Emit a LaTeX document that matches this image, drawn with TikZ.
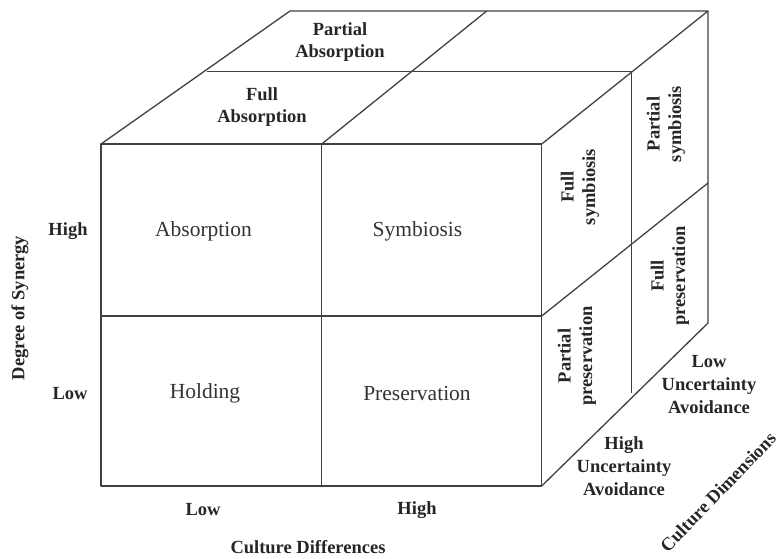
\documentclass[tikz,border=0pt]{standalone}
\usepackage{fontspec}
\setmainfont{Liberation Serif}
\begin{document}
\begin{tikzpicture}[x=1pt,y=-1pt,
  edge/.style={draw=black!75, line width=1.3pt, line join=round},
  lbl/.style={font=\fontsize{18.5}{21.5}\selectfont\bfseries, align=center, text=black!85, inner sep=0pt},
  lbl3/.style={lbl, font=\fontsize{18.5}{23}\selectfont\bfseries},
  cell/.style={font=\fontsize{21.5}{24}\selectfont, align=center, text=black!80, inner sep=0pt}]
\useasboundingbox (0,0) rectangle (779,558);
% corners
\coordinate (FTL) at (101,144);
\coordinate (FTM) at (321.7,144);
\coordinate (FTR) at (541.7,144);
\coordinate (FML) at (101,316);
\coordinate (FMM) at (321.7,316);
\coordinate (FMR) at (541.7,316);
\coordinate (FBL) at (101,486);
\coordinate (FBM) at (321.7,486);
\coordinate (FBR) at (541.7,486);
\coordinate (MTL) at (206.7,71.7);
\coordinate (MTR) at (631.7,71.7);
\coordinate (MMR) at (631.7,241.7);
\coordinate (MBR) at (631.7,393);
\coordinate (BTL) at (290,11);
\coordinate (BTM) at (486.7,11);
\coordinate (BTR) at (708,11);
\coordinate (BMR) at (708,183);
\coordinate (BBR) at (708,323);
% front face
\draw[edge] (FTL) -- (FTR) -- (FBR) -- (FBL) -- cycle;
\draw[edge] (FTM) -- (FBM);
\draw[edge] (FML) -- (FMR);
% top face
\draw[edge] (FTL) -- (BTL) -- (BTR) -- (FTR);
\draw[edge] (MTL) -- (MTR);
\draw[edge] (FTM) -- (BTM);
% right face
\draw[edge] (BTR) -- (BBR) -- (FBR);
\draw[edge] (MTR) -- (MBR);
\draw[edge] (FMR) -- (BMR);
% top labels
\node[lbl] (pa) at (340,42) {Partial\\Absorption};
\node[lbl] (fa) at (262,107) {Full\\Absorption};
% front cells
\node[cell] (c1) at (203.5,231) {Absorption};
\node[cell] (c2) at (417.5,231) {Symbiosis};
\node[cell] (c3) at (205,393) {Holding};
\node[cell] (c4) at (417,393) {Preservation};
% axis labels
\node[lbl] (yh) at (68,231) {High};
\node[lbl] (yl) at (70,394) {Low};
\node[lbl, rotate=90] (ya) at (20,308) {Degree of Synergy};
\node[lbl] (xl) at (203,510) {Low};
\node[lbl] (xh) at (417,510) {High};
\node[lbl] (xa) at (308,547) {Culture Differences};
% right face labels
\node[lbl, rotate=90] (fs) at (580,187) {Full\\symbiosis};
\node[lbl, rotate=90] (ps) at (666,124) {Partial\\symbiosis};
\node[lbl, rotate=90] (fp) at (670,276) {Full\\preservation};
\node[lbl, rotate=90] (pp) at (577,356) {Partial\\preservation};
% depth labels
\node[lbl3] (lu) at (709,385) {Low\\Uncertainty\\Avoidance};
\node[lbl3] (hu) at (624,466) {High\\Uncertainty\\Avoidance};
\node[lbl, rotate=46] (cd) at (718,492) {Culture Dimensions};
\end{tikzpicture}
\end{document}
